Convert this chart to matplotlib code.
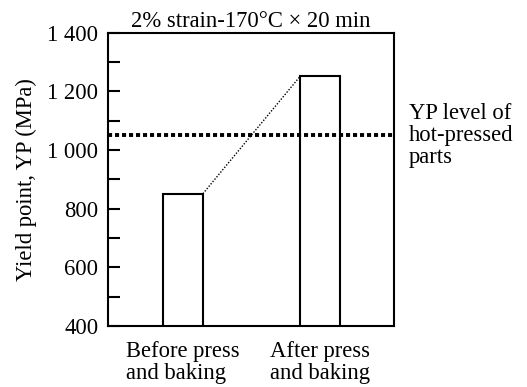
import matplotlib
matplotlib.use("Agg")
import matplotlib.pyplot as plt

# data
categories = ["Before press\nand baking", "After press\nand baking"]
yield_point = [851, 1252]
hot_pressed_level = 1050
y_ticks = [400, 600, 800, 1000, 1200, 1400]
y_ticklabels = ["400", "600", "800", "1 000", "1 200", "1 400"]
y_minor = [500, 700, 900, 1100, 1300]

plt.rcParams['font.family'] = ['Liberation Serif', 'DejaVu Serif']
fs = 16.3

fig = plt.figure(figsize=(5.27, 3.87), dpi=100)
ax = fig.add_axes([0.205, 0.158, 0.543, 0.757])

pos = [1, 2]
w = 0.29
ax.bar(pos, yield_point, width=w, facecolor="white", edgecolor="black",
       linewidth=1.5, zorder=2)

# dotted link between the two bar tops
ax.plot([pos[0] + w / 2, pos[1] - w / 2], yield_point, color="black",
        linewidth=1.0, linestyle=(0, (1, 1.2)), zorder=3)

# level of hot-pressed parts
ax.axhline(hot_pressed_level, color="black", linewidth=2.8,
           linestyle=(0, (1.05, 0.75)), zorder=3)
ax.text(1.052, hot_pressed_level, "YP level of\nhot-pressed\nparts",
        transform=ax.get_yaxis_transform(), ha="left", va="center",
        fontsize=fs, linespacing=1.08)

ax.set_xlim(0.453, 2.541)
ax.set_ylim(400, 1400)
ax.set_yticks(y_ticks)
ax.set_yticklabels(y_ticklabels)
ax.set_yticks(y_minor, minor=True)
ax.set_xticks(pos)
ax.set_xticklabels(categories, multialignment="left", linespacing=1.05)

ax.tick_params(axis="y", which="both", direction="in", length=8.5, width=1.5,
               labelsize=fs, pad=7)
ax.tick_params(axis="x", length=0, labelsize=fs, pad=11)
for s in ax.spines.values():
    s.set_linewidth(1.5)

ax.set_ylabel("Yield point, YP (MPa)", fontsize=fs)
ax.yaxis.set_label_coords(-0.248, 0.5)
ax.set_title("2% strain-170°C × 20 min", fontsize=fs, pad=4)

fig.savefig("out.png", dpi=100)
